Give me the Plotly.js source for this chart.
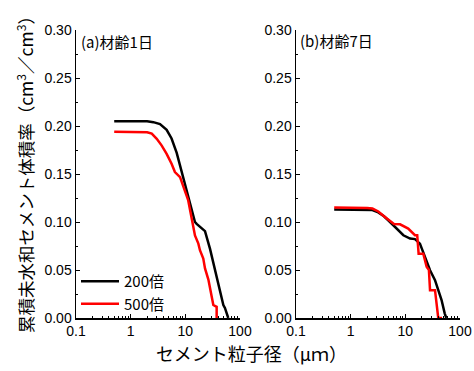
<!DOCTYPE html>
<html>
<head>
<meta charset="utf-8">
<script src="https://cdn.plot.ly/plotly-3.0.1.min.js"></script>
<style>html,body{margin:0;padding:0;background:#fff;}#chart{width:474px;height:371px;}</style>
</head>
<body>
<div id="chart"></div>
<script>
// Panel (a) 材齢1日
const a200X = [0.5, 1, 2, 2.6, 3.44, 4.55, 5.6, 6.95, 8.6, 10.3, 12.2, 15, 16.1, 17.3, 21.3, 22.9, 28.3, 34.8, 40, 43, 46, 49.6, 53, 61];
const a200Y = [0.205, 0.205, 0.205, 0.204, 0.202, 0.196, 0.187, 0.172, 0.152, 0.133, 0.117, 0.1, 0.098, 0.0965, 0.093, 0.0905, 0.072, 0.051, 0.034, 0.028, 0.021, 0.0135, 0.0105, 0];
const a500X = [0.5, 1, 2, 2.43, 3.0, 3.7, 4.55, 5.6, 6.45, 8.0, 9.2, 10.5, 11.3, 13.1, 15, 17.3, 18.5, 21.3, 22.9, 26.4, 28.3, 32.5, 37.4, 37.4];
const a500Y = [0.194, 0.194, 0.1935, 0.192, 0.1866, 0.1796, 0.171, 0.1606, 0.152, 0.1467, 0.138, 0.1277, 0.1225, 0.105, 0.086, 0.0775, 0.0706, 0.062, 0.0516, 0.040, 0.031, 0.0135, 0.0117, 0];
// Panel (b) 材齢7日
const b200X = [0.5, 1, 2, 2.5, 3.2, 4.07, 5.25, 6.9, 9.2, 12.2, 15, 18.5, 22.9, 28.3, 34.9, 40, 46, 52.5, 56];
const b200Y = [0.113, 0.113, 0.113, 0.1125, 0.110, 0.106, 0.100, 0.093, 0.0862, 0.0827, 0.0822, 0.0775, 0.0636, 0.0498, 0.0394, 0.029, 0.0187, 0.0049, 0];
const b500X = [0.5, 1, 2, 2.5, 3.2, 4.07, 5.25, 6.2, 8.0, 11.3, 15, 16.5, 17.5, 21.3, 24.5, 27, 28.3, 34.9, 40, 47];
const b500Y = [0.115, 0.115, 0.1145, 0.114, 0.111, 0.106, 0.101, 0.098, 0.0976, 0.0931, 0.0862, 0.0862, 0.067, 0.067, 0.0533, 0.05, 0.029, 0.029, 0, 0];

const seriesNames = ['200倍', '500倍'];
const xTickVals = [0.1, 1, 10, 100];
const xTickText = ['0.1', '1', '10', '100'];

const minorVals = [];
for (let d = 0.1; d < 100; d *= 10) {
  for (let k = 2; k <= 9; k++) minorVals.push(+(k * d).toPrecision(3));
}

const lw = 2.5;
const traces = [
  {x: a200X, y: a200Y, xaxis: 'x', yaxis: 'y', mode: 'lines', name: seriesNames[0], line: {color: '#000000', width: lw}, legendgroup: 'g200'},
  {x: a500X, y: a500Y, xaxis: 'x', yaxis: 'y', mode: 'lines', name: seriesNames[1], line: {color: '#ff0000', width: lw}, legendgroup: 'g500'},
  {x: b200X, y: b200Y, xaxis: 'x2', yaxis: 'y2', mode: 'lines', name: seriesNames[0], line: {color: '#000000', width: lw}, showlegend: false},
  {x: b500X, y: b500Y, xaxis: 'x2', yaxis: 'y2', mode: 'lines', name: seriesNames[1], line: {color: '#ff0000', width: lw}, showlegend: false}
];

const W = 474, H = 371;
const tickFont = {family: 'Liberation Sans, Arial, sans-serif', size: 14, color: '#000'};
function xAx(d0, d1, anchor) {
  return {
    type: 'log', range: [-1, 2], domain: [d0 / W, d1 / W], anchor: anchor,
    tickvals: xTickVals, ticktext: xTickText, ticks: 'inside', ticklen: 4, tickwidth: 1, tickcolor: '#000',
    minor: {tickvals: minorVals, ticks: 'inside', ticklen: 2, tickwidth: 1, tickcolor: '#000'},
    showline: true, linecolor: '#000', linewidth: 1.5, showgrid: false, zeroline: false,
    tickfont: tickFont, fixedrange: true
  };
}
function yAx(anchor) {
  return {
    range: [0, 0.30], domain: [1 - 318 / H, 1 - 30 / H], anchor: anchor,
    dtick: 0.05, tick0: 0, tickformat: '.2f', ticks: 'inside', ticklen: 4, tickwidth: 1, tickcolor: '#000',
    minor: {dtick: 0.025, ticks: 'inside', ticklen: 2, tickwidth: 1, tickcolor: '#000'},
    showline: true, linecolor: '#000', linewidth: 1.5, showgrid: false, zeroline: false,
    tickfont: tickFont, fixedrange: true
  };
}

const cjk = 'Noto Sans CJK JP, sans-serif';
const layout = {
  width: W, height: H,
  margin: {l: 0, r: 0, t: 0, b: 0},
  paper_bgcolor: '#fff', plot_bgcolor: 'rgba(0,0,0,0)',
  showlegend: true,
  xaxis: xAx(76, 240, 'y'),
  yaxis: yAx('x'),
  xaxis2: xAx(296, 460, 'y2'),
  yaxis2: yAx('x2'),
  legend: {x: 76 / W, y: 1 - 320 / H, xanchor: 'left', yanchor: 'bottom', bgcolor: 'rgba(0,0,0,0)',
           font: {family: cjk, size: 15, color: '#000'}, tracegroupgap: 0, itemwidth: 38},
  annotations: [
    {text: '(a)材齢1日', xref: 'paper', yref: 'paper', x: 79 / W, y: 1 - 41 / H, xanchor: 'left', yanchor: 'middle', showarrow: false, font: {family: cjk, size: 15, color: '#000'}},
    {text: '(b)材齢7日', xref: 'paper', yref: 'paper', x: 298 / W, y: 1 - 40 / H, xanchor: 'left', yanchor: 'middle', showarrow: false, font: {family: cjk, size: 15, color: '#000'}},
    {text: '累積未水和セメント体積率（cm<sup>3</sup>／cm<sup>3</sup>）', xref: 'paper', yref: 'paper', x: 25 / W, y: 1 - 170 / H, xanchor: 'center', yanchor: 'middle', textangle: -90, showarrow: false, font: {family: cjk, size: 17.5, color: '#000'}},
    {text: 'セメント粒子径（μｍ）', xref: 'paper', yref: 'paper', x: 252 / W, y: 1 - 353 / H, xanchor: 'center', yanchor: 'middle', showarrow: false, font: {family: cjk, size: 18, color: '#000'}}
  ]
};

Plotly.newPlot('chart', traces, layout, {displayModeBar: false, staticPlot: true});
</script>
</body>
</html>
